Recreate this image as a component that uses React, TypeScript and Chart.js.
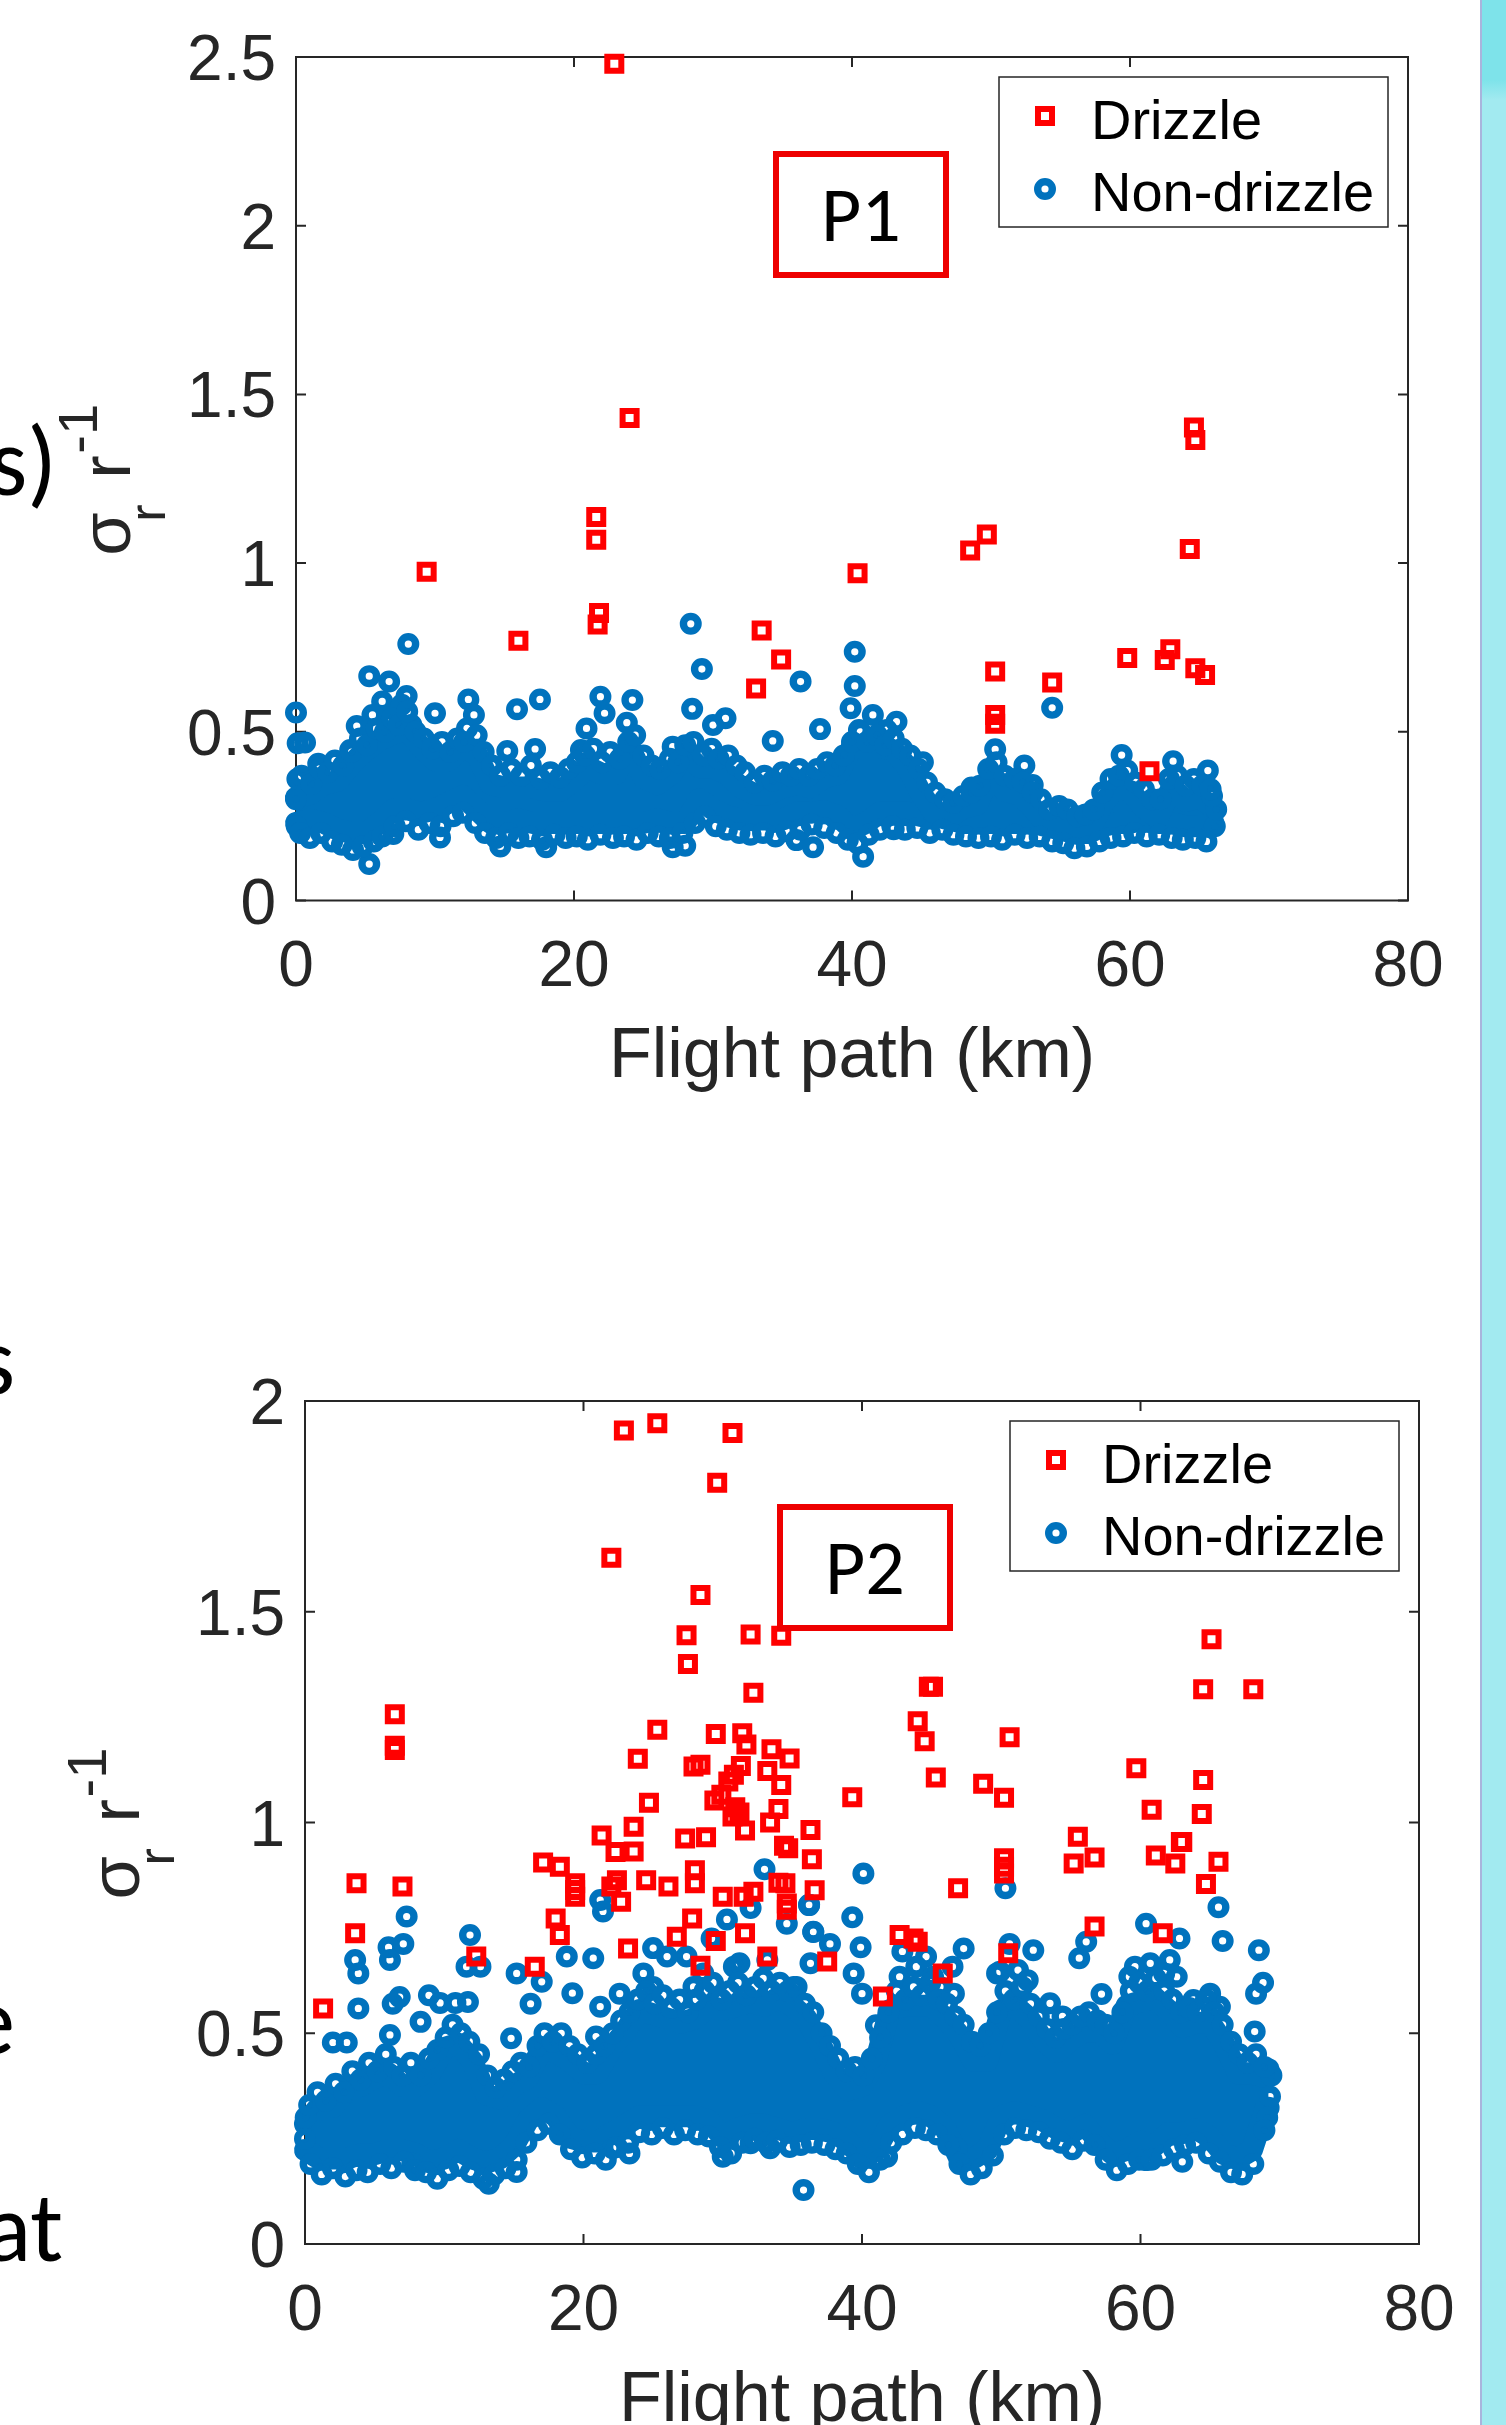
import React, { useEffect, useRef } from "react";
import { Chart, registerables } from "chart.js";

Chart.register(...registerables);

type Pt = [number, number];

// ---------------- shared axis values ----------------
const xTicks = [0, 20, 40, 60, 80];
const xTickLabels = ["0", "20", "40", "60", "80"];
const xTitle = "Flight path (km)";
const legendLabels = ["Drizzle", "Non-drizzle"];

// ---------------- panel P1 ----------------
const p1YTicks = [0, 0.5, 1, 1.5, 2, 2.5];
const p1YTickLabels = ["0", "0.5", "1", "1.5", "2", "2.5"];

const p1Drizzle: Pt[] = [
  [22.9, 2.48], [24.0, 1.43], [21.6, 1.137], [21.6, 1.069], [9.4, 0.974], [21.8, 0.852],
  [21.7, 0.818], [16.0, 0.77], [33.5, 0.8], [34.9, 0.714], [33.1, 0.628], [40.4, 0.97],
  [48.5, 1.037], [49.7, 1.085], [50.3, 0.679], [50.3, 0.55], [50.3, 0.524], [54.4, 0.646],
  [59.8, 0.719], [61.4, 0.383], [62.5, 0.713], [62.9, 0.745], [64.6, 1.402], [64.7, 1.365],
  [64.3, 1.042], [64.7, 0.688], [65.4, 0.668],
];

// isolated non-drizzle markers
const p1NonDrizzle: Pt[] = [
  [0.0, 0.557], [0.12, 0.466], [0.65, 0.468], [1.6, 0.405], [3.9, 0.446], [4.37, 0.517],
  [5.27, 0.665], [6.7, 0.649], [7.96, 0.606], [8.08, 0.76], [7.2, 0.56], [6.2, 0.59],
  [5.5, 0.55], [7.6, 0.58], [8.3, 0.52], [10.0, 0.555], [12.4, 0.596], [12.3, 0.51],
  [12.8, 0.55], [15.2, 0.443], [15.9, 0.567], [17.2, 0.449], [17.55, 0.596], [20.5, 0.446],
  [20.9, 0.51], [21.9, 0.604], [22.2, 0.555], [23.8, 0.527], [24.2, 0.594], [27.1, 0.456],
  [28.4, 0.82], [28.5, 0.568], [29.2, 0.686], [30.9, 0.54], [30.0, 0.52], [34.3, 0.473],
  [36.3, 0.649], [37.7, 0.508], [39.9, 0.57], [40.2, 0.737], [40.2, 0.636], [40.5, 0.505],
  [41.5, 0.55], [41.3, 0.476], [42.5, 0.505], [43.2, 0.53], [45.1, 0.41], [48.6, 0.335],
  [50.3, 0.448], [52.4, 0.4], [53.0, 0.342], [54.4, 0.571], [59.4, 0.431], [63.1, 0.413],
  [65.6, 0.385], [5.27, 0.108], [7.0, 0.197], [10.36, 0.187], [14.7, 0.16], [18.0, 0.158],
  [27.1, 0.158], [28.0, 0.162], [36.0, 0.179], [37.2, 0.158], [40.8, 0.13], [43.0, 0.211],
  [0.05, 0.22], [0.0, 0.3], [0.1, 0.36], [66.1, 0.22], [66.2, 0.27], [65.9, 0.31],
];

// markers along the upper rim of the dense cloud
const p1NonDrizzleUpperRim: Pt[] = [
  [0.4, 0.37], [1.1, 0.345], [1.7, 0.39], [2.3, 0.38], [2.8, 0.415], [3.4, 0.4], [4.0, 0.44],
  [4.6, 0.48], [5.1, 0.46], [5.8, 0.51], [6.4, 0.5], [6.9, 0.54], [7.4, 0.52], [8.0, 0.56],
  [8.6, 0.5], [9.2, 0.48], [9.8, 0.45], [10.5, 0.47], [11.1, 0.44], [11.6, 0.48], [12.1, 0.47],
  [13.0, 0.49], [13.5, 0.44], [14.1, 0.4], [14.7, 0.37], [15.5, 0.39], [16.2, 0.37],
  [16.9, 0.4], [17.6, 0.36], [18.3, 0.38], [19.0, 0.365], [19.6, 0.39], [20.2, 0.41],
  [20.8, 0.43], [21.4, 0.45], [22.0, 0.41], [22.6, 0.44], [23.3, 0.42], [23.9, 0.47],
  [24.4, 0.49], [25.0, 0.43], [25.6, 0.4], [26.2, 0.39], [26.9, 0.42], [27.5, 0.41],
  [28.0, 0.46], [28.6, 0.47], [29.3, 0.43], [29.9, 0.45], [30.4, 0.42], [31.1, 0.43],
  [31.7, 0.4], [32.3, 0.38], [33.0, 0.35], [33.7, 0.37], [34.3, 0.355], [35.0, 0.38],
  [35.6, 0.37], [36.2, 0.39], [36.9, 0.37], [37.5, 0.39], [38.2, 0.41], [38.8, 0.4],
  [39.4, 0.43], [40.0, 0.47], [40.6, 0.5], [41.1, 0.47], [41.8, 0.49], [42.4, 0.46],
  [43.0, 0.48], [43.6, 0.45], [44.2, 0.43], [44.8, 0.39], [45.4, 0.35], [46.0, 0.32],
  [46.7, 0.3], [47.3, 0.29], [48.0, 0.31], [48.6, 0.32], [49.2, 0.34], [49.8, 0.39],
  [50.4, 0.41], [51.0, 0.37], [51.7, 0.36], [52.3, 0.35], [53.0, 0.32], [53.6, 0.3],
  [54.2, 0.27], [54.9, 0.28], [55.5, 0.27], [56.2, 0.25], [56.8, 0.255], [57.4, 0.27],
  [58.0, 0.32], [58.6, 0.36], [59.2, 0.37], [59.8, 0.385], [60.4, 0.35], [61.0, 0.33],
  [61.6, 0.3], [62.2, 0.3], [62.8, 0.36], [63.4, 0.37], [64.0, 0.34], [64.6, 0.36],
  [65.2, 0.34], [65.8, 0.33],
];

// markers along the lower rim of the dense cloud
const p1NonDrizzleLowerRim: Pt[] = [
  [0.3, 0.2], [1.0, 0.185], [1.8, 0.2], [2.6, 0.175], [3.3, 0.165], [4.1, 0.15], [4.8, 0.16],
  [5.6, 0.175], [6.2, 0.19], [7.1, 0.22], [7.9, 0.235], [8.8, 0.21], [9.6, 0.23], [10.4, 0.22],
  [11.3, 0.25], [12.0, 0.26], [12.9, 0.23], [13.6, 0.2], [14.4, 0.185], [15.3, 0.2],
  [16.0, 0.185], [16.8, 0.19], [17.7, 0.18], [18.6, 0.195], [19.4, 0.185], [20.2, 0.19],
  [21.0, 0.18], [21.9, 0.195], [22.8, 0.185], [23.6, 0.19], [24.5, 0.18], [25.3, 0.2],
  [26.1, 0.19], [26.9, 0.185], [27.8, 0.2], [28.7, 0.23], [29.4, 0.25], [30.2, 0.22],
  [31.0, 0.21], [31.9, 0.2], [32.7, 0.195], [33.6, 0.2], [34.5, 0.19], [35.3, 0.205],
  [36.3, 0.21], [37.1, 0.225], [38.0, 0.215], [38.9, 0.2], [39.7, 0.18], [40.4, 0.17],
  [41.2, 0.195], [42.0, 0.21], [42.9, 0.22], [43.8, 0.21], [44.7, 0.215], [45.6, 0.2],
  [46.5, 0.21], [47.3, 0.195], [48.2, 0.19], [49.1, 0.185], [50.0, 0.19], [50.8, 0.18],
  [51.7, 0.195], [52.6, 0.185], [53.5, 0.19], [54.4, 0.175], [55.2, 0.17], [56.0, 0.155],
  [56.9, 0.16], [57.8, 0.175], [58.6, 0.185], [59.5, 0.19], [60.3, 0.2], [61.2, 0.19],
  [62.1, 0.195], [63.0, 0.185], [63.8, 0.18], [64.7, 0.185], [65.5, 0.175],
];

// core of the dense, fully overlapping non-drizzle markers (marker centres)
const p1DenseX = [
  0, 1, 2, 3, 4, 5, 6, 7, 8, 9, 10, 11, 12, 13, 14, 15, 16, 17, 18, 19, 20, 21, 22,
  23, 24, 25, 26, 27, 28, 29, 30, 31, 32, 33, 34, 35, 36, 37, 38, 39, 40, 41, 42, 43, 44,
  45, 46, 47, 48, 49, 50, 51, 52, 53, 54, 55, 56, 57, 58, 59, 60, 61, 62, 63, 64, 65, 66,
];
const p1DenseTop = [
  0.305, 0.315, 0.345, 0.355, 0.405, 0.445, 0.475, 0.495, 0.505, 0.455, 0.415, 0.415, 0.455,
  0.435, 0.345, 0.335, 0.335, 0.335, 0.325, 0.325, 0.355, 0.395, 0.375, 0.375, 0.455, 0.365,
  0.345, 0.375, 0.435, 0.395, 0.395, 0.375, 0.335, 0.315, 0.315, 0.335, 0.345, 0.335, 0.365,
  0.375, 0.455, 0.455, 0.455, 0.445, 0.395, 0.315, 0.255, 0.245, 0.275, 0.285, 0.375, 0.325,
  0.315, 0.275, 0.225, 0.235, 0.215, 0.2, 0.285, 0.335, 0.325, 0.275, 0.245, 0.335, 0.295,
  0.305, 0.275,
];
const p1DenseBottom = [
  0.23, 0.24, 0.23, 0.21, 0.2, 0.2, 0.23, 0.27, 0.27, 0.26, 0.27, 0.29, 0.31, 0.27, 0.23,
  0.23, 0.24, 0.23, 0.23, 0.23, 0.23, 0.23, 0.23, 0.23, 0.23, 0.23, 0.24, 0.23, 0.23, 0.3,
  0.27, 0.25, 0.24, 0.24, 0.24, 0.24, 0.26, 0.26, 0.265, 0.25, 0.21, 0.23, 0.26, 0.26, 0.26,
  0.25, 0.25, 0.24, 0.23, 0.23, 0.23, 0.23, 0.23, 0.23, 0.22, 0.21, 0.2, 0.2, 0.22, 0.23,
  0.23, 0.24, 0.23, 0.23, 0.22, 0.22, 0.23,
];

// ---------------- panel P2 ----------------
const p2YTicks = [0, 0.5, 1, 1.5, 2];
const p2YTickLabels = ["0", "0.5", "1", "1.5", "2"];

const p2Drizzle: Pt[] = [
  [22.9, 1.93], [25.3, 1.947], [30.7, 1.924], [29.6, 1.806], [22.0, 1.628], [28.4, 1.54],
  [27.4, 1.444], [32.0, 1.446], [34.2, 1.443], [27.5, 1.376], [32.2, 1.308], [44.8, 1.322],
  [45.1, 1.322], [65.1, 1.435], [64.5, 1.316], [68.1, 1.316], [44.0, 1.24], [44.5, 1.193],
  [50.6, 1.202], [45.3, 1.107], [48.7, 1.092], [50.2, 1.059], [39.3, 1.06], [59.7, 1.129],
  [64.5, 1.101], [60.8, 1.03], [64.4, 1.02], [55.5, 0.966], [63.0, 0.954], [6.45, 1.257],
  [6.45, 1.182], [6.45, 1.172], [25.3, 1.22], [29.5, 1.21], [31.4, 1.212], [31.7, 1.185],
  [23.9, 1.151], [33.5, 1.174], [34.8, 1.152], [27.9, 1.133], [28.4, 1.137], [31.3, 1.134],
  [33.2, 1.122], [30.8, 1.113], [30.4, 1.097], [34.2, 1.089], [29.9, 1.066], [24.7, 1.047],
  [29.4, 1.052], [34.0, 1.032], [30.9, 1.036], [31.2, 1.024], [30.7, 1.014], [33.4, 1.0],
  [21.3, 0.969], [23.6, 0.99], [27.3, 0.962], [28.8, 0.965], [31.6, 0.981], [34.4, 0.945],
  [36.3, 0.982], [22.3, 0.93], [23.6, 0.931], [34.7, 0.939], [36.4, 0.913], [17.1, 0.905],
  [18.3, 0.895], [19.4, 0.856], [19.4, 0.84], [19.4, 0.824], [28.0, 0.887], [28.0, 0.856],
  [22.0, 0.848], [22.7, 0.812], [22.4, 0.863], [24.5, 0.863], [26.1, 0.848], [30.0, 0.824],
  [31.5, 0.824], [32.2, 0.836], [34.0, 0.857], [34.5, 0.856], [36.6, 0.839], [34.6, 0.808],
  [34.6, 0.793], [18.0, 0.772], [18.3, 0.733], [27.8, 0.772], [26.7, 0.729], [31.6, 0.737],
  [23.2, 0.701], [28.4, 0.66], [33.2, 0.682], [12.3, 0.682], [16.5, 0.658], [29.5, 0.719],
  [42.7, 0.733], [43.7, 0.725], [44.0, 0.717], [37.5, 0.67], [41.5, 0.587], [45.8, 0.642],
  [46.9, 0.844], [50.2, 0.915], [50.2, 0.895], [50.2, 0.879], [50.5, 0.69], [55.2, 0.903],
  [56.7, 0.917], [56.7, 0.753], [61.1, 0.922], [62.5, 0.903], [62.9, 0.954], [65.6, 0.907],
  [64.7, 0.854], [61.6, 0.737], [3.7, 0.856], [7.0, 0.848], [3.6, 0.737], [1.3, 0.559],
];

const p2NonDrizzle: Pt[] = [
  [35.8, 0.128], [33.0, 0.889], [21.2, 0.816], [21.4, 0.789], [7.3, 0.777], [7.06, 0.712],
  [6.0, 0.704], [6.1, 0.674], [3.6, 0.674], [3.83, 0.642], [3.83, 0.559], [2.0, 0.478],
  [3.0, 0.478], [11.85, 0.733], [11.6, 0.658], [12.6, 0.658], [15.2, 0.642], [6.3, 0.57],
  [6.8, 0.586], [8.9, 0.59], [9.7, 0.572], [10.8, 0.572], [11.7, 0.574], [8.3, 0.527],
  [6.1, 0.496], [14.8, 0.488], [18.8, 0.682], [20.7, 0.678], [17.0, 0.622], [19.2, 0.595],
  [16.2, 0.57], [25.0, 0.702], [24.3, 0.642], [27.4, 0.682], [29.2, 0.725], [30.3, 0.77],
  [32.0, 0.797], [36.2, 0.805], [34.6, 0.76], [36.5, 0.74], [20.9, 0.492], [33.4, 0.227],
  [23.3, 0.215], [32.0, 0.239], [22.1, 0.227], [30.0, 0.207], [15.2, 0.171], [13.2, 0.143],
  [7.7, 0.191], [40.1, 0.879], [50.3, 0.844], [39.3, 0.775], [36.2, 0.804], [36.5, 0.741],
  [37.7, 0.712], [39.9, 0.704], [39.4, 0.642], [40.0, 0.594], [41.0, 0.519], [42.9, 0.694],
  [44.6, 0.682], [47.3, 0.701], [46.5, 0.658], [50.6, 0.712], [52.3, 0.697], [49.9, 0.646],
  [55.6, 0.678], [56.1, 0.717], [57.2, 0.593], [60.4, 0.76], [59.6, 0.658], [62.8, 0.725],
  [62.1, 0.674], [65.6, 0.799], [65.9, 0.719], [68.5, 0.697], [68.8, 0.62], [68.3, 0.594],
  [68.2, 0.504], [60.4, 0.199], [63.0, 0.195], [41.8, 0.207], [46.8, 0.227], [53.5, 0.571],
  [54.4, 0.54], [0.0, 0.25], [0.05, 0.3], [69.3, 0.35], [69.4, 0.4], [69.1, 0.3],
  [26.0, 0.682], [28.6, 0.642], [30.8, 0.658], [31.2, 0.666], [33.2, 0.674], [35.1, 0.61],
  [36.3, 0.666], [27.9, 0.61], [25.0, 0.61], [22.6, 0.594], [21.2, 0.563], [42.7, 0.634],
  [43.9, 0.658], [45.1, 0.634], [45.6, 0.61], [46.6, 0.594], [49.7, 0.642], [51.2, 0.65],
  [51.9, 0.626], [59.2, 0.634], [60.7, 0.666], [61.7, 0.642], [62.6, 0.634], [63.8, 0.579],
  [65.0, 0.594], [65.7, 0.563],
];

const p2NonDrizzleUpperRim: Pt[] = [
  [0.3, 0.33], [0.9, 0.36], [1.5, 0.34], [2.2, 0.38], [2.8, 0.36], [3.4, 0.41], [4.0, 0.39],
  [4.6, 0.43], [5.2, 0.41], [5.8, 0.45], [6.4, 0.42], [7.0, 0.4], [7.6, 0.43], [8.3, 0.4],
  [8.9, 0.44], [9.5, 0.46], [10.1, 0.49], [10.6, 0.52], [11.2, 0.5], [11.8, 0.48],
  [12.5, 0.45], [13.1, 0.4], [13.7, 0.37], [14.3, 0.39], [14.9, 0.41], [15.5, 0.43],
  [16.1, 0.42], [16.7, 0.47], [17.2, 0.5], [17.8, 0.48], [18.4, 0.5], [19.0, 0.47],
  [19.6, 0.45], [20.3, 0.43], [20.9, 0.45], [21.5, 0.47], [22.1, 0.5], [22.7, 0.53],
  [23.3, 0.55], [23.9, 0.58], [24.5, 0.6], [25.1, 0.57], [25.7, 0.59], [26.3, 0.56],
  [26.9, 0.58], [27.5, 0.55], [28.1, 0.58], [28.7, 0.6], [29.3, 0.62], [29.9, 0.58],
  [30.5, 0.6], [31.1, 0.62], [31.7, 0.59], [32.3, 0.61], [32.9, 0.63], [33.5, 0.6],
  [34.1, 0.62], [34.7, 0.6], [35.3, 0.61], [35.9, 0.57], [36.5, 0.55], [37.1, 0.5],
  [37.7, 0.47], [38.3, 0.44], [38.9, 0.41], [39.5, 0.42], [40.1, 0.4], [40.7, 0.44],
  [41.3, 0.49], [41.9, 0.55], [42.5, 0.6], [43.1, 0.58], [43.7, 0.61], [44.3, 0.59],
  [44.9, 0.62], [45.5, 0.58], [46.1, 0.57], [46.7, 0.54], [47.3, 0.52], [47.9, 0.48],
  [48.5, 0.47], [49.1, 0.5], [49.7, 0.55], [50.3, 0.6], [50.9, 0.58], [51.5, 0.61],
  [52.1, 0.57], [52.7, 0.54], [53.3, 0.51], [53.9, 0.49], [54.5, 0.51], [55.1, 0.52],
  [55.7, 0.54], [56.3, 0.55], [56.9, 0.53], [57.5, 0.52], [58.1, 0.5], [58.7, 0.55],
  [59.3, 0.6], [59.9, 0.62], [60.5, 0.6], [61.1, 0.63], [61.7, 0.6], [62.3, 0.58],
  [62.9, 0.55], [63.5, 0.56], [64.1, 0.55], [64.7, 0.58], [65.3, 0.55], [65.9, 0.52],
  [66.5, 0.48], [67.1, 0.45], [67.7, 0.43], [68.3, 0.45], [68.9, 0.42],
];

const p2NonDrizzleLowerRim: Pt[] = [
  [0.4, 0.19], [1.2, 0.165], [2.0, 0.18], [2.9, 0.16], [3.7, 0.175], [4.5, 0.17], [5.4, 0.19],
  [6.2, 0.18], [7.1, 0.195], [7.9, 0.175], [8.7, 0.17], [9.5, 0.155], [10.3, 0.175],
  [11.1, 0.185], [11.9, 0.17], [12.8, 0.155], [13.6, 0.165], [14.4, 0.18], [15.2, 0.2],
  [15.9, 0.24], [16.7, 0.27], [17.5, 0.285], [18.3, 0.26], [19.1, 0.225], [19.9, 0.205],
  [20.8, 0.215], [21.6, 0.2], [22.4, 0.23], [23.2, 0.24], [24.0, 0.265], [24.9, 0.26],
  [25.7, 0.275], [26.5, 0.26], [27.3, 0.27], [28.2, 0.26], [29.0, 0.255], [29.8, 0.23],
  [30.6, 0.215], [31.4, 0.24], [32.3, 0.25], [33.1, 0.24], [33.9, 0.245], [34.8, 0.23],
  [35.6, 0.235], [36.4, 0.24], [37.3, 0.235], [38.1, 0.225], [38.9, 0.215], [39.7, 0.19],
  [40.5, 0.17], [41.3, 0.2], [42.1, 0.24], [42.9, 0.26], [43.8, 0.275], [44.6, 0.27],
  [45.4, 0.26], [46.2, 0.235], [47.0, 0.19], [47.8, 0.165], [48.6, 0.18], [49.4, 0.21],
  [50.2, 0.26], [51.0, 0.275], [51.8, 0.27], [52.7, 0.265], [53.5, 0.25], [54.3, 0.24],
  [55.1, 0.225], [55.9, 0.245], [56.7, 0.235], [57.5, 0.2], [58.3, 0.175], [59.1, 0.19],
  [59.9, 0.2], [60.8, 0.2], [61.6, 0.21], [62.4, 0.225], [63.2, 0.235], [64.0, 0.24],
  [64.9, 0.215], [65.7, 0.195], [66.5, 0.17], [67.3, 0.165], [68.1, 0.19], [68.9, 0.27],
];

const p2DenseX = [
  0, 1, 2, 3, 4, 5, 6, 7, 8, 9, 10, 11, 12, 13, 14, 15, 16, 17, 18, 19, 20, 21, 22,
  23, 24, 25, 26, 27, 28, 29, 30, 31, 32, 33, 34, 35, 36, 37, 38, 39, 40, 41, 42, 43, 44,
  45, 46, 47, 48, 49, 50, 51, 52, 53, 54, 55, 56, 57, 58, 59, 60, 61, 62, 63, 64, 65, 66,
  67, 68, 69, 69.2,
];
const p2DenseTop = [
  0.285, 0.325, 0.325, 0.365, 0.375, 0.395, 0.405, 0.375, 0.375, 0.405, 0.465, 0.475, 0.435,
  0.355, 0.345, 0.375, 0.395, 0.465, 0.455, 0.435, 0.405, 0.405, 0.465, 0.505, 0.555, 0.545,
  0.535, 0.525, 0.535, 0.565, 0.555, 0.565, 0.575, 0.565, 0.585, 0.565, 0.535, 0.475, 0.405,
  0.365, 0.375, 0.435, 0.555, 0.565, 0.565, 0.565, 0.535, 0.495, 0.435, 0.435, 0.555, 0.565,
  0.535, 0.485, 0.455, 0.485, 0.505, 0.505, 0.475, 0.565, 0.575, 0.585, 0.555, 0.515, 0.525,
  0.525, 0.475, 0.405, 0.405, 0.395, 0.415,
];
const p2DenseBottom = [
  0.223, 0.203, 0.203, 0.203, 0.213, 0.213, 0.223, 0.223, 0.213, 0.193, 0.203, 0.223, 0.203,
  0.193, 0.203, 0.233, 0.293, 0.323, 0.303, 0.253, 0.243, 0.243, 0.263, 0.283, 0.303, 0.303,
  0.303, 0.303, 0.303, 0.293, 0.253, 0.273, 0.283, 0.283, 0.273, 0.263, 0.273, 0.273, 0.263,
  0.243, 0.203, 0.223, 0.283, 0.303, 0.313, 0.303, 0.273, 0.203, 0.203, 0.223, 0.303, 0.313,
  0.303, 0.293, 0.273, 0.263, 0.283, 0.243, 0.213, 0.223, 0.243, 0.233, 0.263, 0.263, 0.273,
  0.253, 0.213, 0.203, 0.223, 0.323, 0.323,
];

// ---------------- styling ----------------
const FONT = "'Liberation Sans', Arial, Helvetica, sans-serif";
const SLIDE_FONT = "Carlito, Lato, 'Open Sans', sans-serif";
const AXIS_COLOR = "#262626";
const RED = "#ff0000";
const BLUE = "#0072bd";
const TICK = 10;
const SQ_R = 9.9;
const SQ_W = 6;
const RING_R = 7.3;
const RING_W = 7.4;
const DENSE_W = 22;

type PanelProps = {
  top: number;
  height: number;
  pad: { left: number; top: number; right: number; bottom: number };
  yMax: number;
  yTicks: number[];
  yTickLabels: string[];
  drizzle: Pt[];
  nonDrizzle: Pt[];
  denseX: number[];
  denseTop: number[];
  denseBottom: number[];
};

const toXY = (pts: Pt[]) => pts.map(([x, y]) => ({ x, y }));

function drawYLabel(ctx: CanvasRenderingContext2D, bx: number, cy: number) {
  ctx.save();
  ctx.translate(bx, cy);
  ctx.rotate(-Math.PI / 2);
  ctx.fillStyle = AXIS_COLOR;
  ctx.textAlign = "left";
  ctx.textBaseline = "alphabetic";
  const s = -71;
  ctx.font = `70px ${FONT}`;
  ctx.fillText("σ", s - 2, 0);
  ctx.font = `52px ${FONT}`;
  ctx.fillText("r", s + 32, 35);
  ctx.font = `70px ${FONT}`;
  ctx.fillText("r", s + 75, 0);
  ctx.font = `56px ${FONT}`;
  ctx.fillText("-1", s + 100, -33);
  ctx.restore();
}

function drawLegend(ctx: CanvasRenderingContext2D, a: any) {
  const w = 389;
  const h = 150;
  const left = a.right - 20 - w;
  const top = a.top + 20;
  ctx.save();
  ctx.fillStyle = "#ffffff";
  ctx.fillRect(left, top, w, h);
  ctx.strokeStyle = AXIS_COLOR;
  ctx.lineWidth = 1.5;
  ctx.strokeRect(left, top, w, h);
  const mx = left + 46;
  const half = SQ_R * Math.SQRT1_2;
  ctx.strokeStyle = RED;
  ctx.lineWidth = SQ_W;
  ctx.strokeRect(mx - half, top + 39 - half, 2 * half, 2 * half);
  ctx.strokeStyle = BLUE;
  ctx.lineWidth = RING_W;
  ctx.beginPath();
  ctx.arc(mx, top + 112, RING_R, 0, Math.PI * 2);
  ctx.stroke();
  ctx.fillStyle = "#000000";
  ctx.font = `56px ${FONT}`;
  ctx.textAlign = "left";
  ctx.textBaseline = "alphabetic";
  ctx.fillText(legendLabels[0], left + 92, top + 62);
  ctx.fillText(legendLabels[1], left + 92, top + 134);
  ctx.restore();
}

function makeAxesPlugin(p: PanelProps) {
  return {
    id: "matlabAxes",
    beforeDatasetsDraw(chart: any) {
      const { ctx, chartArea: a, scales } = chart;
      ctx.save();
      ctx.strokeStyle = AXIS_COLOR;
      ctx.lineWidth = 2;
      ctx.strokeRect(a.left, a.top, a.right - a.left, a.bottom - a.top);
      ctx.beginPath();
      for (const v of xTicks) {
        const px = scales.x.getPixelForValue(v);
        ctx.moveTo(px, a.bottom);
        ctx.lineTo(px, a.bottom - TICK);
        ctx.moveTo(px, a.top);
        ctx.lineTo(px, a.top + TICK);
      }
      for (const v of p.yTicks) {
        const py = scales.y.getPixelForValue(v);
        ctx.moveTo(a.left, py);
        ctx.lineTo(a.left + TICK, py);
        ctx.moveTo(a.right, py);
        ctx.lineTo(a.right - TICK, py);
      }
      ctx.stroke();
      ctx.restore();
    },
    afterDatasetsDraw(chart: any) {
      const { ctx, chartArea: a, scales } = chart;
      ctx.save();
      ctx.fillStyle = AXIS_COLOR;
      ctx.font = `64px ${FONT}`;
      ctx.textBaseline = "alphabetic";
      ctx.textAlign = "center";
      xTicks.forEach((v, i) => {
        ctx.fillText(xTickLabels[i], scales.x.getPixelForValue(v), a.bottom + 85.5);
      });
      ctx.textAlign = "right";
      p.yTicks.forEach((v, i) => {
        ctx.fillText(p.yTickLabels[i], a.left - 20, scales.y.getPixelForValue(v) + 23);
      });
      ctx.font = `70px ${FONT}`;
      ctx.textAlign = "center";
      ctx.fillText(xTitle, (a.left + a.right) / 2, a.bottom + 176.5);
      ctx.restore();
      drawYLabel(ctx, a.left - 166, (a.top + a.bottom) / 2 + 4);
      drawLegend(ctx, a);
    },
  };
}

function Panel(p: PanelProps) {
  const ref = useRef<HTMLCanvasElement>(null);
  useEffect(() => {
    const canvas = ref.current;
    if (!canvas) return;
    const chart = new Chart(canvas, {
      type: "line",
      data: {
        datasets: [
          {
            label: legendLabels[0],
            data: toXY(p.drizzle),
            showLine: false,
            pointStyle: "rect",
            pointRadius: SQ_R,
            pointBorderWidth: SQ_W,
            pointBorderColor: RED,
            pointBackgroundColor: "rgba(0,0,0,0)",
            borderColor: RED,
            backgroundColor: "rgba(0,0,0,0)",
            clip: false,
          },
          {
            label: legendLabels[1],
            data: toXY(p.nonDrizzle),
            showLine: false,
            pointStyle: "circle",
            pointRadius: RING_R,
            pointBorderWidth: RING_W,
            pointBorderColor: BLUE,
            pointBackgroundColor: "rgba(0,0,0,0)",
            borderColor: BLUE,
            backgroundColor: "rgba(0,0,0,0)",
            clip: false,
          },
          {
            label: legendLabels[1] + " (dense, upper)",
            data: p.denseX.map((x, i) => ({ x, y: p.denseTop[i] })),
            showLine: true,
            pointRadius: 0,
            borderColor: BLUE,
            borderWidth: DENSE_W,
            borderJoinStyle: "round",
            borderCapStyle: "round",
            tension: 0,
            fill: false,
            clip: false,
          },
          {
            label: legendLabels[1] + " (dense, lower)",
            data: p.denseX.map((x, i) => ({ x, y: p.denseBottom[i] })),
            showLine: true,
            pointRadius: 0,
            borderColor: BLUE,
            backgroundColor: BLUE,
            borderWidth: DENSE_W,
            borderJoinStyle: "round",
            borderCapStyle: "round",
            tension: 0,
            fill: "-1",
            clip: false,
          },
        ],
      } as any,
      options: {
        responsive: false,
        animation: false,
        devicePixelRatio: 1,
        events: [],
        layout: { padding: p.pad },
        plugins: {
          legend: { display: false },
          tooltip: { enabled: false },
        },
        scales: {
          x: { type: "linear", min: 0, max: 80, display: false },
          y: { type: "linear", min: 0, max: p.yMax, display: false },
        },
      } as any,
      plugins: [makeAxesPlugin(p)],
    });
    return () => chart.destroy();
  }, []);
  return (
    <canvas
      ref={ref}
      width={1480}
      height={p.height}
      style={{ position: "absolute", left: 0, top: p.top, width: 1480, height: p.height }}
    />
  );
}

function SlideText(props: { text: string; right: number; top: number; size: number }) {
  return (
    <div
      style={{
        position: "absolute",
        right: 1506 - props.right,
        top: props.top,
        fontFamily: SLIDE_FONT,
        fontSize: props.size,
        lineHeight: `${props.size}px`,
        color: "#000",
        whiteSpace: "nowrap",
      }}
    >
      {props.text}
    </div>
  );
}

function PBox(props: { label: string; left: number; top: number }) {
  return (
    <div
      style={{
        position: "absolute",
        left: props.left,
        top: props.top,
        width: 176,
        height: 127,
        boxSizing: "border-box",
        border: "6px solid #ee0000",
        display: "flex",
        alignItems: "center",
        justifyContent: "center",
        fontFamily: SLIDE_FONT,
        fontSize: 78,
        lineHeight: "78px",
        color: "#000",
      }}
    >
      {props.label}
    </div>
  );
}

export default function App() {
  return (
    <div
      style={{
        position: "absolute",
        left: 0,
        top: 0,
        width: 1506,
        height: 2425,
        overflow: "hidden",
        background: "#ffffff",
      }}
    >
      <Panel
        top={0}
        height={1200}
        pad={{ left: 296, top: 57, right: 72, bottom: 299.5 }}
        yMax={2.5}
        yTicks={p1YTicks}
        yTickLabels={p1YTickLabels}
        drizzle={p1Drizzle}
        nonDrizzle={[...p1NonDrizzle, ...p1NonDrizzleUpperRim, ...p1NonDrizzleLowerRim]}
        denseX={p1DenseX}
        denseTop={p1DenseTop}
        denseBottom={p1DenseBottom}
      />
      <Panel
        top={1200}
        height={1225}
        pad={{ left: 305, top: 201, right: 61, bottom: 181 }}
        yMax={2}
        yTicks={p2YTicks}
        yTickLabels={p2YTickLabels}
        drizzle={p2Drizzle}
        nonDrizzle={[...p2NonDrizzle, ...p2NonDrizzleUpperRim, ...p2NonDrizzleLowerRim]}
        denseX={p2DenseX}
        denseTop={p2DenseTop}
        denseBottom={p2DenseBottom}
      />
      <PBox label="P1" left={773} top={151} />
      <PBox label="P2" left={777} top={1504} />
      <SlideText text="s)" right={57} top={413} size={98} />
      <SlideText text="s" right={15} top={1312} size={98} />
      <SlideText text="e" right={15} top={1972} size={98} />
      <SlideText text="at" right={63} top={2179} size={98} />
      <div
        style={{
          position: "absolute",
          left: 1480,
          top: 0,
          width: 26,
          height: 2425,
          boxSizing: "border-box",
          borderLeft: "2px solid #a9b4dc",
          background:
            "linear-gradient(to bottom, #7ee3ea 0px, #7ee3ea 80px, #a2eaf0 100px, #a2eaf0 100%)",
        }}
      />
    </div>
  );
}
